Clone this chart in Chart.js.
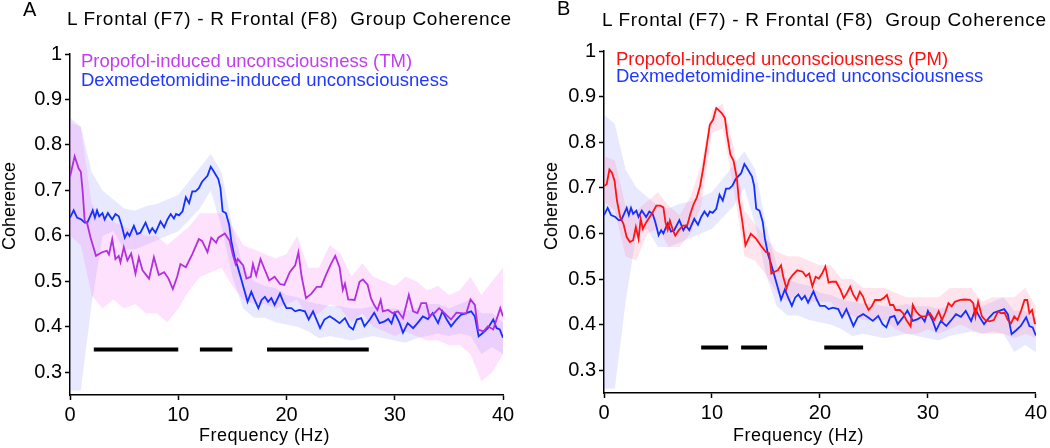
<!DOCTYPE html>
<html>
<head>
<title>Group Coherence</title>
<script src="https://cdn.jsdelivr.net/npm/chart.js"></script>
<style>
  body { margin: 0; background: #fff; width: 1050px; height: 448px; position: relative; overflow: hidden; font-family: "Liberation Sans", Arial, sans-serif; }
  canvas { position: absolute; top: 0; }
  .txt { position: absolute; white-space: nowrap; line-height: 1; color: #000; }
  .rot { position: absolute; white-space: nowrap; line-height: 1; transform: translate(-50%, -50%) rotate(-90deg); font-size: 18px; }
</style>
<script>
// frequency axis (Hz) and coherence values
let yTicks = [0.3, 0.4, 0.5, 0.6, 0.7, 0.8, 0.9, 1];
let sigLevel = 0.35;

// Dexmedetomidine-induced unconsciousness (same in both panels)
let dexFreq = [0,0.34,0.65,1.05,1.36,1.6,1.9,2.1,2.3,2.5,2.7,3.0,3.2,3.5,3.9,4.2,4.5,4.75,5.06,5.3,5.5,5.9,6.2,6.5,6.98,7.35,7.6,7.9,8.36,8.7,9.0,9.3,9.6,9.8,10.06,10.4,10.7,11.0,11.3,11.6,11.9,12.2,12.7,13.0,13.2,13.7,13.9,14.1,14.4,14.7,14.9,15.2,15.5,15.8,16.1,16.4,16.75,17.06,17.4,17.7,18.0,18.3,18.6,18.9,19.4,19.7,20.0,20.45,20.8,21.2,21.7,22.05,22.45,23.1,23.5,24.0,24.45,24.9,25.4,25.8,26.15,26.5,26.9,27.2,27.7,28.1,28.6,29.06,29.4,29.7,30.0,30.45,30.76,31.2,31.7,32.1,32.6,33.06,33.5,34.0,34.4,34.8,35.2,35.7,36.1,36.6,37.06,37.4,37.75,38.15,38.6,39.1,39.4,39.7,40];
let dexCoh = [0.64,0.656,0.64,0.636,0.629,0.629,0.645,0.656,0.64,0.656,0.643,0.65,0.636,0.65,0.636,0.648,0.643,0.625,0.596,0.607,0.6,0.622,0.604,0.607,0.629,0.607,0.617,0.607,0.632,0.619,0.636,0.648,0.638,0.648,0.645,0.654,0.685,0.672,0.698,0.698,0.705,0.719,0.732,0.752,0.745,0.725,0.705,0.654,0.65,0.625,0.589,0.553,0.531,0.506,0.481,0.455,0.477,0.459,0.441,0.459,0.466,0.455,0.463,0.448,0.473,0.455,0.441,0.441,0.434,0.437,0.434,0.416,0.434,0.397,0.416,0.423,0.416,0.408,0.419,0.401,0.394,0.416,0.419,0.401,0.416,0.431,0.408,0.412,0.417,0.407,0.43,0.408,0.387,0.408,0.397,0.408,0.423,0.417,0.43,0.408,0.434,0.416,0.401,0.416,0.426,0.43,0.434,0.423,0.379,0.387,0.397,0.416,0.397,0.394,0.376];

// Propofol-induced unconsciousness (TM)
let tmFreq = [0,0.43,0.8,1.0,1.17,1.36,1.57,1.9,2.4,2.96,3.4,3.6,3.9,4.2,4.5,4.66,4.97,5.3,5.65,6.05,6.36,6.7,7.3,7.75,8.2,8.7,9.1,9.5,9.9,10.2,10.7,11.3,11.9,12.2,12.7,13.05,13.5,13.7,14.3,14.75,15.06,15.3,15.5,16.0,16.3,16.7,16.9,17.2,17.6,17.9,18.4,18.9,19.4,19.8,20.3,20.8,21.1,21.4,21.8,22.3,22.8,23.2,23.7,24.1,24.5,24.9,25.2,25.4,25.7,26.3,26.75,27.06,27.5,27.8,28.1,28.4,28.7,28.9,29.4,29.8,30.3,30.76,31.3,31.7,32.1,32.45,32.9,33.2,33.7,34.1,34.6,35.2,35.7,36.1,36.6,37.0,37.4,37.7,38.2,38.6,39.1,39.4,39.75,40];
let tmCoh = [0.73,0.775,0.748,0.741,0.698,0.632,0.629,0.596,0.556,0.564,0.567,0.559,0.593,0.549,0.556,0.542,0.575,0.546,0.561,0.517,0.553,0.524,0.506,0.553,0.514,0.52,0.506,0.483,0.51,0.538,0.531,0.56,0.593,0.589,0.564,0.596,0.585,0.596,0.605,0.589,0.557,0.538,0.549,0.535,0.506,0.51,0.538,0.513,0.549,0.531,0.502,0.51,0.494,0.492,0.52,0.535,0.564,0.51,0.463,0.473,0.488,0.488,0.517,0.538,0.556,0.531,0.481,0.495,0.46,0.459,0.499,0.504,0.492,0.463,0.448,0.437,0.459,0.434,0.437,0.43,0.434,0.419,0.47,0.434,0.43,0.452,0.452,0.423,0.431,0.441,0.43,0.416,0.431,0.43,0.429,0.46,0.448,0.394,0.39,0.401,0.394,0.416,0.441,0.423];

// Propofol-induced unconsciousness (PM)
let pmFreq = [0,0.25,0.5,0.74,0.98,1.2,1.5,1.8,2.1,2.4,2.7,2.95,3.2,3.4,3.6,3.9,4.2,4.5,4.85,5.2,5.5,5.7,5.9,6.1,6.4,6.6,6.9,7.3,7.7,8.0,8.3,8.6,8.9,9.2,9.5,9.8,10.1,10.4,10.6,10.9,11.2,11.4,11.7,12.0,12.3,12.5,12.8,13.1,13.6,14.1,14.5,15.0,15.3,15.5,15.8,16.1,16.4,16.6,16.9,17.15,17.45,17.9,18.4,18.7,19.0,19.3,19.6,19.9,20.2,20.5,20.8,21.1,21.5,21.9,22.2,22.5,22.8,23.1,23.4,23.7,24.0,24.2,24.5,24.8,25.1,25.6,25.9,26.2,26.5,26.8,27.0,27.4,27.7,28.0,28.4,28.6,28.9,29.2,29.4,29.8,30.2,30.6,31.0,31.3,31.6,31.9,32.2,32.5,33.0,33.4,33.9,34.2,34.4,34.65,35.0,35.3,35.7,36.1,36.5,36.8,37.1,37.4,37.7,38.0,38.3,38.65,38.95,39.2,39.4,39.65,39.9,40];
let pmCoh = [0.704,0.708,0.74,0.733,0.715,0.672,0.635,0.621,0.592,0.581,0.585,0.614,0.588,0.632,0.61,0.624,0.635,0.646,0.661,0.661,0.657,0.624,0.608,0.628,0.606,0.595,0.606,0.617,0.617,0.643,0.664,0.679,0.704,0.744,0.791,0.838,0.849,0.875,0.871,0.864,0.853,0.817,0.773,0.759,0.722,0.672,0.628,0.574,0.599,0.588,0.574,0.559,0.556,0.512,0.516,0.519,0.53,0.505,0.479,0.498,0.508,0.519,0.516,0.506,0.512,0.484,0.505,0.501,0.512,0.527,0.492,0.494,0.494,0.476,0.458,0.469,0.483,0.465,0.454,0.472,0.461,0.447,0.432,0.44,0.454,0.454,0.458,0.465,0.443,0.443,0.432,0.432,0.425,0.41,0.396,0.443,0.429,0.421,0.418,0.418,0.425,0.41,0.429,0.41,0.426,0.447,0.44,0.45,0.454,0.455,0.454,0.447,0.418,0.45,0.418,0.41,0.407,0.41,0.429,0.425,0.426,0.41,0.403,0.418,0.41,0.432,0.454,0.454,0.425,0.432,0.403,0.402];

// error bands, 1 Hz grid
let bandFreq = [0,1,2,3,4,5,6,7,8,9,10,11,12,13,14,15,16,17,18,19,20,21,22,23,24,25,26,27,28,29,30,31,32,33,34,35,36,37,38,39,40];
let dexHi = [0.86,0.84,0.74,0.7,0.68,0.66,0.655,0.665,0.67,0.68,0.69,0.72,0.75,0.78,0.74,0.62,0.53,0.5,0.49,0.485,0.47,0.465,0.455,0.45,0.445,0.445,0.44,0.44,0.445,0.44,0.44,0.435,0.44,0.45,0.45,0.44,0.45,0.46,0.43,0.43,0.41];
let dexLo = [0.26,0.26,0.45,0.6,0.61,0.57,0.57,0.58,0.59,0.6,0.61,0.635,0.66,0.7,0.62,0.51,0.44,0.42,0.42,0.41,0.405,0.4,0.39,0.375,0.38,0.375,0.37,0.375,0.38,0.375,0.37,0.365,0.375,0.38,0.385,0.38,0.385,0.38,0.34,0.355,0.34];
let tmHi = [0.85,0.84,0.67,0.64,0.63,0.62,0.61,0.6,0.6,0.58,0.6,0.62,0.65,0.65,0.65,0.62,0.58,0.57,0.56,0.55,0.56,0.6,0.53,0.53,0.58,0.56,0.51,0.54,0.51,0.5,0.49,0.51,0.5,0.48,0.49,0.47,0.48,0.51,0.47,0.5,0.53];
let tmLo = [0.6,0.58,0.47,0.44,0.46,0.44,0.45,0.43,0.43,0.41,0.44,0.48,0.51,0.52,0.53,0.49,0.46,0.45,0.45,0.44,0.45,0.46,0.42,0.43,0.45,0.44,0.41,0.43,0.4,0.39,0.38,0.39,0.38,0.37,0.37,0.36,0.36,0.34,0.28,0.3,0.34];
let pmHi = [0.77,0.76,0.66,0.65,0.67,0.69,0.66,0.64,0.68,0.75,0.87,0.885,0.79,0.65,0.62,0.59,0.56,0.55,0.55,0.54,0.53,0.53,0.5,0.5,0.48,0.48,0.48,0.47,0.46,0.46,0.46,0.46,0.48,0.48,0.48,0.45,0.46,0.46,0.46,0.48,0.44];
let pmLo = [0.67,0.65,0.55,0.54,0.6,0.61,0.57,0.57,0.6,0.66,0.82,0.83,0.7,0.55,0.54,0.51,0.47,0.45,0.47,0.45,0.45,0.45,0.42,0.42,0.41,0.41,0.41,0.39,0.38,0.38,0.39,0.38,0.39,0.4,0.39,0.38,0.38,0.38,0.37,0.38,0.37];

// significance bars (Hz)
let sigStartA = [2.2, 12.0, 18.2];
let sigEndA = [10.0, 15.0, 27.6];
let sigStartB = [9.0, 12.7, 20.4];
let sigEndB = [11.5, 15.1, 24.0];

const FONT = '"Liberation Sans", Arial, sans-serif';

function pts(xs, ys) {
    return xs.map((x, i) => ({x: x, y: ys[i]}));
}

function sigPts(starts, ends) {
    let out = [];
    for (let i = 0; i < starts.length; i++) {
        out.push({x: starts[i], y: sigLevel}, {x: ends[i], y: sigLevel});
        if (i < starts.length - 1) out.push({x: (ends[i] + starts[i + 1]) / 2, y: null});
    }
    return out;
}

function drawPanel(id, prop, propColor, hi, lo, bandColor, starts, ends, pad, yWidth, xHeight) {
    let datasets = [
        {data: pts(prop[0], prop[1]), borderColor: propColor, borderWidth: 1.8, fill: false, order: 0},
        {data: pts(dexFreq, dexCoh), borderColor: '#1430ff', borderWidth: 1.8, fill: false, order: 1},
        {data: sigPts(starts, ends), borderColor: '#000', borderWidth: 4, borderCapStyle: 'butt', spanGaps: false, fill: false, order: 0},
        {data: pts(bandFreq, hi), borderWidth: 0, backgroundColor: bandColor, fill: '+1', order: 5},
        {data: pts(bandFreq, lo), borderWidth: 0, fill: false, order: 5},
        {data: pts(bandFreq, dexHi), borderWidth: 0, backgroundColor: 'rgba(130,130,255,0.18)', fill: '+1', order: 6},
        {data: pts(bandFreq, dexLo), borderWidth: 0, fill: false, order: 6}
    ];
    new Chart(document.getElementById(id).getContext('2d'), {
        type: 'line',
        data: {datasets: datasets},
        options: {
            responsive: false,
            animation: false,
            devicePixelRatio: 1,
            layout: {padding: pad},
            plugins: {legend: {display: false}, tooltip: {enabled: false}},
            elements: {point: {radius: 0}, line: {tension: 0}},
            scales: {
                x: {
                    type: 'linear', min: 0, max: 40,
                    ticks: {stepSize: 10, color: '#000', font: {family: FONT, size: 20}, padding: 3, maxRotation: 0},
                    grid: {drawOnChartArea: false, color: '#000', tickLength: 5, tickWidth: 1.5},
                    border: {color: '#000', width: 1.5},
                    afterFit: s => { s.height = xHeight; }
                },
                y: {
                    type: 'linear', min: 0.25, max: 1,
                    afterBuildTicks: s => { s.ticks = yTicks.map(v => ({value: v})); },
                    ticks: {color: '#000', font: {family: FONT, size: 20}, padding: 3,
                        callback: v => String(Math.round(v * 10) / 10)},
                    grid: {drawOnChartArea: false, color: '#000', tickLength: 5, tickWidth: 1.5},
                    border: {color: '#000', width: 1.5},
                    afterFit: s => { s.width = yWidth; }
                }
            }
        }
    });
}

window.onload = function () {
    drawPanel('chartA', [tmFreq, tmCoh], '#b22ee0', tmHi, tmLo, 'rgba(245,120,245,0.22)',
        sigStartA, sigEndA, {left: 0, right: 22, top: 54, bottom: 0}, 70, 53);
    drawPanel('chartB', [pmFreq, pmCoh], '#ff1414', pmHi, pmLo, 'rgba(255,120,170,0.2)',
        sigStartB, sigEndB, {left: 0, right: 12, top: 51, bottom: 0}, 79, 55);
};
</script>
</head>
<body>
    <canvas id="chartA" width="525" height="448" style="left:0"></canvas>
    <canvas id="chartB" width="525" height="448" style="left:525px"></canvas>

    <div class="txt" style="left:23px; top:-1px; font-size:20px">A</div>
    <div class="txt" style="left:557px; top:-2px; font-size:20px">B</div>
    <div class="txt" style="left:67px; top:9px; font-size:19px; letter-spacing:0.7px">L Frontal (F7) - R Frontal (F8)&nbsp; Group Coherence</div>
    <div class="txt" style="left:602px; top:10px; font-size:19px; letter-spacing:0.7px">L Frontal (F7) - R Frontal (F8)&nbsp; Group Coherence</div>

    <div class="txt" style="left:81px; top:52px; font-size:18.5px; color:#c040f0">Propofol-induced unconsciousness (TM)</div>
    <div class="txt" style="left:81px; top:71px; font-size:18.5px; color:#2038ff">Dexmedetomidine-induced unconsciousness</div>
    <div class="txt" style="left:616px; top:50px; font-size:18.5px; color:#ff1010">Propofol-induced unconsciousness (PM)</div>
    <div class="txt" style="left:616px; top:67px; font-size:18.5px; color:#2038ff">Dexmedetomidine-induced unconsciousness</div>

    <div class="txt" style="left:199px; top:426px; font-size:18px; letter-spacing:0.5px">Frequency (Hz)</div>
    <div class="txt" style="left:733px; top:426px; font-size:18px; letter-spacing:0.5px">Frequency (Hz)</div>
    <div class="rot" style="left:9px; top:206px">Coherence</div>
    <div class="rot" style="left:551px; top:206px">Coherence</div>
</body>
</html>
